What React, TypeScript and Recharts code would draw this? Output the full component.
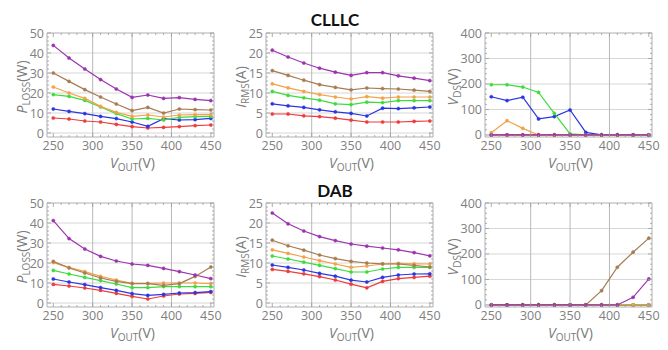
import React from 'react';
import { LineChart, Line, XAxis, YAxis, ReferenceLine, ReferenceArea } from 'recharts';

// ---------- data ----------
const vout = [250, 270, 290, 310, 330, 350, 370, 390, 410, 430, 450];
const xTicks = [250, 300, 350, 400, 450];
const xGrid = [300, 350, 400];

// series order (draw order): red, blue, green, orange, brown, purple
const seriesColors = ['#ee3b3b', '#2b35e0', '#3ddc3d', '#f5a04a', '#a67c52', '#9b35ad'];

const clllcPloss = [
  [7.5, 7, 6, 5.5, 4.3, 3.2, 2.5, 2.8, 3.2, 3.7, 4],
  [12, 10.8, 9.7, 8.3, 7.2, 5.5, 3.3, 7.2, 6.5, 6.7, 7.3],
  [19.2, 18.3, 16.3, 13, 9.7, 7, 7.3, 6.5, 7.8, 8.2, 8.3],
  [23, 20, 17.3, 13.3, 10.3, 8.3, 9, 8, 9, 9.2, 9.2],
  [30, 25.8, 21.7, 18, 14.5, 11.2, 12.8, 10, 12, 11.7, 11.5],
  [43.8, 37.5, 32, 26.7, 22, 17.8, 19, 17.3, 17.7, 16.8, 16.2],
];
const clllcIrms = [
  [4.75, 4.75, 4.3, 4.1, 3.7, 3.2, 2.75, 2.75, 2.75, 2.9, 3.0],
  [7.3, 6.8, 6.4, 5.8, 5.3, 4.9, 4.25, 6.2, 6.1, 6.3, 6.5],
  [10.4, 9.4, 8.8, 8.2, 7.3, 7.1, 7.7, 7.6, 8.1, 8.1, 8.1],
  [12.3, 11.3, 10.4, 9.6, 9, 8.5, 9.1, 8.7, 9, 9, 9],
  [15.6, 14.4, 13.2, 12.1, 11.4, 10.8, 11.25, 11.1, 11, 10.7, 10.4],
  [20.7, 19, 17.5, 16.2, 15.2, 14.4, 15.1, 15.1, 14.3, 13.7, 13.1],
];
const clllcVds = [
  [0, 0, 0, 0, 0, 0, 0, 0, 0, 0, 0],
  [150, 135, 148, 63, 72, 98, 10, 0, 0, 0, 0],
  [197, 197, 188, 167, 85, 4, 0, 0, 0, 0, 0],
  [9, 56, 26, 0, 0, 0, 0, 0, 0, 0, 0],
  [0, 0, 0, 0, 0, 0, 0, 0, 0, 0, 0],
  [0, 0, 0, 0, 0, 0, 0, 0, 0, 0, 0],
];
const dabPloss = [
  [9.3, 8.5, 7.5, 6.3, 4.8, 3.3, 2, 3.5, 4.5, 4.8, 5.3],
  [12, 10.5, 9.2, 7.7, 6.3, 4.7, 3.8, 4.3, 5, 5.2, 5.7],
  [16.3, 14.5, 12.8, 11.2, 9.5, 7.7, 7.7, 8.2, 8.2, 8.2, 8.2],
  [20.2, 17.8, 15.7, 13.3, 11.5, 9.8, 9.8, 10, 10, 10, 9.7],
  [20.8, 17.5, 15, 12.5, 10.8, 9.7, 9.7, 8.8, 9.7, 13.3, 18],
  [41.2, 32.2, 27, 23.3, 21, 19.5, 18.8, 17.3, 15.7, 14, 12.2],
];
const dabIrms = [
  [8.4, 7.9, 7.3, 6.6, 5.75, 4.7, 3.8, 5.4, 6.1, 6.4, 6.7],
  [9.5, 8.9, 8.25, 7.4, 6.7, 5.7, 5.25, 6.4, 7, 7.25, 7.3],
  [11.75, 11, 10.2, 9.4, 8.6, 7.75, 7.75, 8.5, 8.9, 8.9, 8.9],
  [13.3, 12.4, 11.5, 10.6, 9.75, 8.9, 9.25, 9.75, 9.9, 9.8, 9.75],
  [15.7, 14.3, 13.2, 12, 11.1, 10.4, 10, 9.8, 9.75, 9.4, 9],
  [22.5, 19.8, 18, 16.6, 15.6, 14.75, 14.2, 13.75, 13.3, 12.6, 11.8],
];
const dabVds = [
  [0, 0, 0, 0, 0, 0, 0, 0, 0, 0, 0],
  [0, 0, 0, 0, 0, 0, 0, 0, 0, 0, 0],
  [0, 0, 0, 0, 0, 0, 0, 0, 0, 0, 0],
  [0, 0, 0, 0, 0, 0, 0, 0, 0, 0, 0],
  [0, 0, 0, 0, 0, 0, 0, 56, 148, 207, 262],
  [0, 0, 0, 0, 0, 0, 0, 0, 0, 30, 102],
];

const plossTicks = [0, 10, 20, 30, 40, 50];
const irmsTicks = [0, 5, 10, 15, 20, 25];
const vdsTicks = [0, 100, 200, 300, 400];

// ---------- layout ----------
const FW = 167;
const FH = 104;
const ML = 47;
const MT = 12;
const MR = 14;
const XH = 40;
const FONT = "'Open Sans', 'Liberation Sans', sans-serif";
const TICK_COLOR = '#9a9a9a';
const LABEL_COLOR = '#7a7a7a';
const X_DOMAIN: [number, number] = [242, 454];

function steps(a: number, b: number, s: number) {
  const out: number[] = [];
  for (let v = a; v <= b + 1e-9; v += s) out.push(Math.round(v * 1000) / 1000);
  return out;
}

function buildRows(values: number[][]) {
  return vout.map((v, i) => {
    const row: Record<string, number> = { v };
    values.forEach((s, k) => {
      row['s' + k] = s[i];
    });
    return row;
  });
}

type PanelProps = {
  left: number;
  top: number;
  values: number[][];
  yDomain: [number, number];
  yTicks: number[];
  yMinorStep: number;
};

function Panel({ left, top, values, yDomain, yTicks, yMinorStep }: PanelProps) {
  const data = buildRows(values);
  const xAll = steps(250, 450, 10);
  const yAll = steps(0, yTicks[yTicks.length - 1], yMinorStep);

  const xTick = (p: any) => {
    const { x, y, payload } = p;
    const v = payload.value;
    const major = xTicks.includes(v);
    const len = major ? 4 : 2;
    return (
      <g>
        <line x1={x} x2={x} y1={y} y2={y - len} stroke={TICK_COLOR} strokeWidth={0.8} />
        <line x1={x} x2={x} y1={y - FH} y2={y - FH + len} stroke={TICK_COLOR} strokeWidth={0.8} />
        {major && (
          <text x={x} y={y + 13} textAnchor="middle" fontSize={12.5} fontFamily={FONT} fill="#808080">
            {v}
          </text>
        )}
      </g>
    );
  };

  const yTick = (p: any) => {
    const { x, y, payload } = p;
    const v = payload.value;
    const major = yTicks.includes(v);
    const len = major ? 4 : 2;
    return (
      <g>
        <line x1={x} x2={x + len} y1={y} y2={y} stroke={TICK_COLOR} strokeWidth={0.8} />
        <line x1={x + FW} x2={x + FW - len} y1={y} y2={y} stroke={TICK_COLOR} strokeWidth={0.8} />
        {major && (
          <text x={x - 3} y={y + 4.5} textAnchor="end" fontSize={12.5} fontFamily={FONT} fill="#808080">
            {v}
          </text>
        )}
      </g>
    );
  };

  return (
    <div style={{ position: 'absolute', left: left - ML, top: top - MT }}>
      <LineChart
        width={ML + FW + MR}
        height={MT + FH + XH}
        data={data}
        margin={{ top: MT, right: MR, left: 0, bottom: 0 }}
      >
        <XAxis
          dataKey="v"
          type="number"
          domain={X_DOMAIN}
          ticks={xAll}
          interval={0}
          allowDataOverflow
          tickSize={0}
          tickMargin={0}
          tickLine={false}
          axisLine={false}
          height={XH}
          tick={xTick}
        />
        <YAxis
          type="number"
          domain={yDomain}
          ticks={yAll}
          interval={0}
          allowDataOverflow
          tickSize={0}
          tickMargin={0}
          tickLine={false}
          axisLine={false}
          width={ML}
          tick={yTick}
        />
        {yTicks.map((t) => (
          <ReferenceLine key={'h' + t} y={t} stroke="#d6d6d6" strokeWidth={1} />
        ))}
        {xGrid.map((t) => (
          <ReferenceLine key={'v' + t} x={t} stroke="#b8b8b8" strokeWidth={1} />
        ))}
        <ReferenceArea
          x1={X_DOMAIN[0]}
          x2={X_DOMAIN[1]}
          y1={yDomain[0]}
          y2={yDomain[1]}
          fill="none"
          stroke="#b0b0b0"
          strokeWidth={1}
          fillOpacity={0}
        />
        {values.map((_, k) => (
          <Line
            key={k}
            type="linear"
            dataKey={'s' + k}
            stroke={seriesColors[k]}
            strokeWidth={1.2}
            dot={{ r: 1.6, fill: seriesColors[k], stroke: seriesColors[k], strokeWidth: 0.5 }}
            activeDot={false}
            isAnimationActive={false}
          />
        ))}
      </LineChart>
    </div>
  );
}

const colLefts = [47, 266, 485];
const rowTops = [33, 203];
const yLabelOffsets = [20, 20, 27];

function YLabel({ cx, cy, main, sub, unit }: { cx: number; cy: number; main: string; sub: string; unit: string }) {
  return (
    <text
      transform={`translate(${cx},${cy}) rotate(-90)`}
      textAnchor="middle"
      fontFamily={FONT}
      fontSize={14}
      fill={LABEL_COLOR}
    >
      <tspan fontStyle="italic">{main}</tspan>
      <tspan fontSize={10} dy={3}>
        {sub}
      </tspan>
      <tspan dy={-3}>{unit}</tspan>
    </text>
  );
}

function XLabel({ cx, y }: { cx: number; y: number }) {
  return (
    <text x={cx} y={y} textAnchor="middle" fontFamily={FONT} fontSize={14} fill={LABEL_COLOR}>
      <tspan fontStyle="italic">V</tspan>
      <tspan fontSize={10} dy={3}>
        OUT
      </tspan>
      <tspan dy={-3}>(V)</tspan>
    </text>
  );
}

export default function App() {
  const yLabels = [
    { main: 'P', sub: 'LOSS', unit: '(W)' },
    { main: 'I', sub: 'RMS', unit: '(A)' },
    { main: 'V', sub: 'DS', unit: '(V)' },
  ];
  return (
    <div style={{ position: 'absolute', left: 0, top: 0, width: 668, height: 350, background: '#fff', overflow: 'hidden' }}>
      <Panel left={colLefts[0]} top={rowTops[0]} values={clllcPloss} yDomain={[-2, 50]} yTicks={plossTicks} yMinorStep={2} />
      <Panel left={colLefts[1]} top={rowTops[0]} values={clllcIrms} yDomain={[-1, 25]} yTicks={irmsTicks} yMinorStep={1} />
      <Panel left={colLefts[2]} top={rowTops[0]} values={clllcVds} yDomain={[-8, 400]} yTicks={vdsTicks} yMinorStep={20} />
      <Panel left={colLefts[0]} top={rowTops[1]} values={dabPloss} yDomain={[-2, 50]} yTicks={plossTicks} yMinorStep={2} />
      <Panel left={colLefts[1]} top={rowTops[1]} values={dabIrms} yDomain={[-1, 25]} yTicks={irmsTicks} yMinorStep={1} />
      <Panel left={colLefts[2]} top={rowTops[1]} values={dabVds} yDomain={[-8, 400]} yTicks={vdsTicks} yMinorStep={20} />
      <svg width={668} height={350} style={{ position: 'absolute', left: 0, top: 0, pointerEvents: 'none' }}>
        <text x={335} y={26} textAnchor="middle" fontFamily="Lato, 'Open Sans', sans-serif" fontWeight={700} fontSize={17} fill="#111">
          CLLLC
        </text>
        <text x={335} y={197} textAnchor="middle" fontFamily="Lato, 'Open Sans', sans-serif" fontWeight={700} fontSize={17} fill="#111">
          DAB
        </text>
        {rowTops.map((t) =>
          colLefts.map((l, c) => (
            <g key={t + '-' + c}>
              <YLabel cx={l - yLabelOffsets[c]} cy={t + FH / 2 + 2} {...yLabels[c]} />
              <XLabel cx={l + FW / 2 + 2} y={t + FH + 31} />
            </g>
          ))
        )}
      </svg>
    </div>
  );
}
